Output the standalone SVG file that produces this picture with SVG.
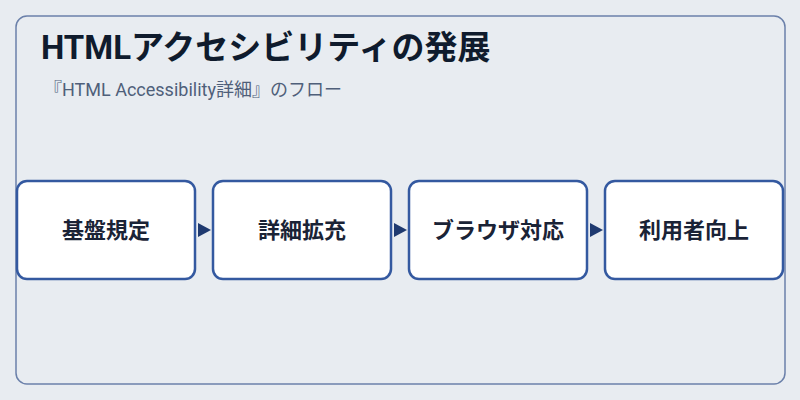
<svg xmlns="http://www.w3.org/2000/svg" width="800" height="400" viewBox="0 0 800 400">
<defs>
<style>
.title{font-family:"Roboto","Noto Sans CJK JP",sans-serif;font-weight:bold;font-size:33px;fill:#0f1b2d}
.sub{font-family:"Roboto","Noto Sans CJK JP",sans-serif;font-size:18px;fill:#4f5f7a}
.box{fill:#ffffff;stroke:#3459a0;stroke-width:2.5}
.lbl{font-family:"Noto Sans CJK JP",sans-serif;font-weight:bold;font-size:22px;fill:#1a2336;text-anchor:middle}
.arrow{fill:#1f3a70}
</style>
</defs>
<rect width="800" height="400" fill="#e8ecf1"/>
<rect x="16" y="16" width="769" height="368" rx="11" fill="#e8ecf1" stroke="#6b80aa" stroke-width="1.5"/>
<text class="title" x="41" y="59">HTMLアクセシビリティの発展</text>
<text class="sub" x="44" y="96">『HTML Accessibility詳細』のフロー</text>
<g id="connectors">
<polygon class="arrow" points="198,223 211,230 198,237"/>
<polygon class="arrow" points="394,223 407,230 394,237"/>
<polygon class="arrow" points="590,223 603,230 590,237"/>
</g>
<g id="node1"><rect class="box" x="17" y="181" width="178" height="98" rx="10"/><text class="lbl" x="106" y="238">基盤規定</text></g>
<g id="node2"><rect class="box" x="213" y="181" width="178" height="98" rx="10"/><text class="lbl" x="302" y="238">詳細拡充</text></g>
<g id="node3"><rect class="box" x="409" y="181" width="178" height="98" rx="10"/><text class="lbl" x="498" y="238">ブラウザ対応</text></g>
<g id="node4"><rect class="box" x="605" y="181" width="178" height="98" rx="10"/><text class="lbl" x="694" y="238">利用者向上</text></g>
</svg>
